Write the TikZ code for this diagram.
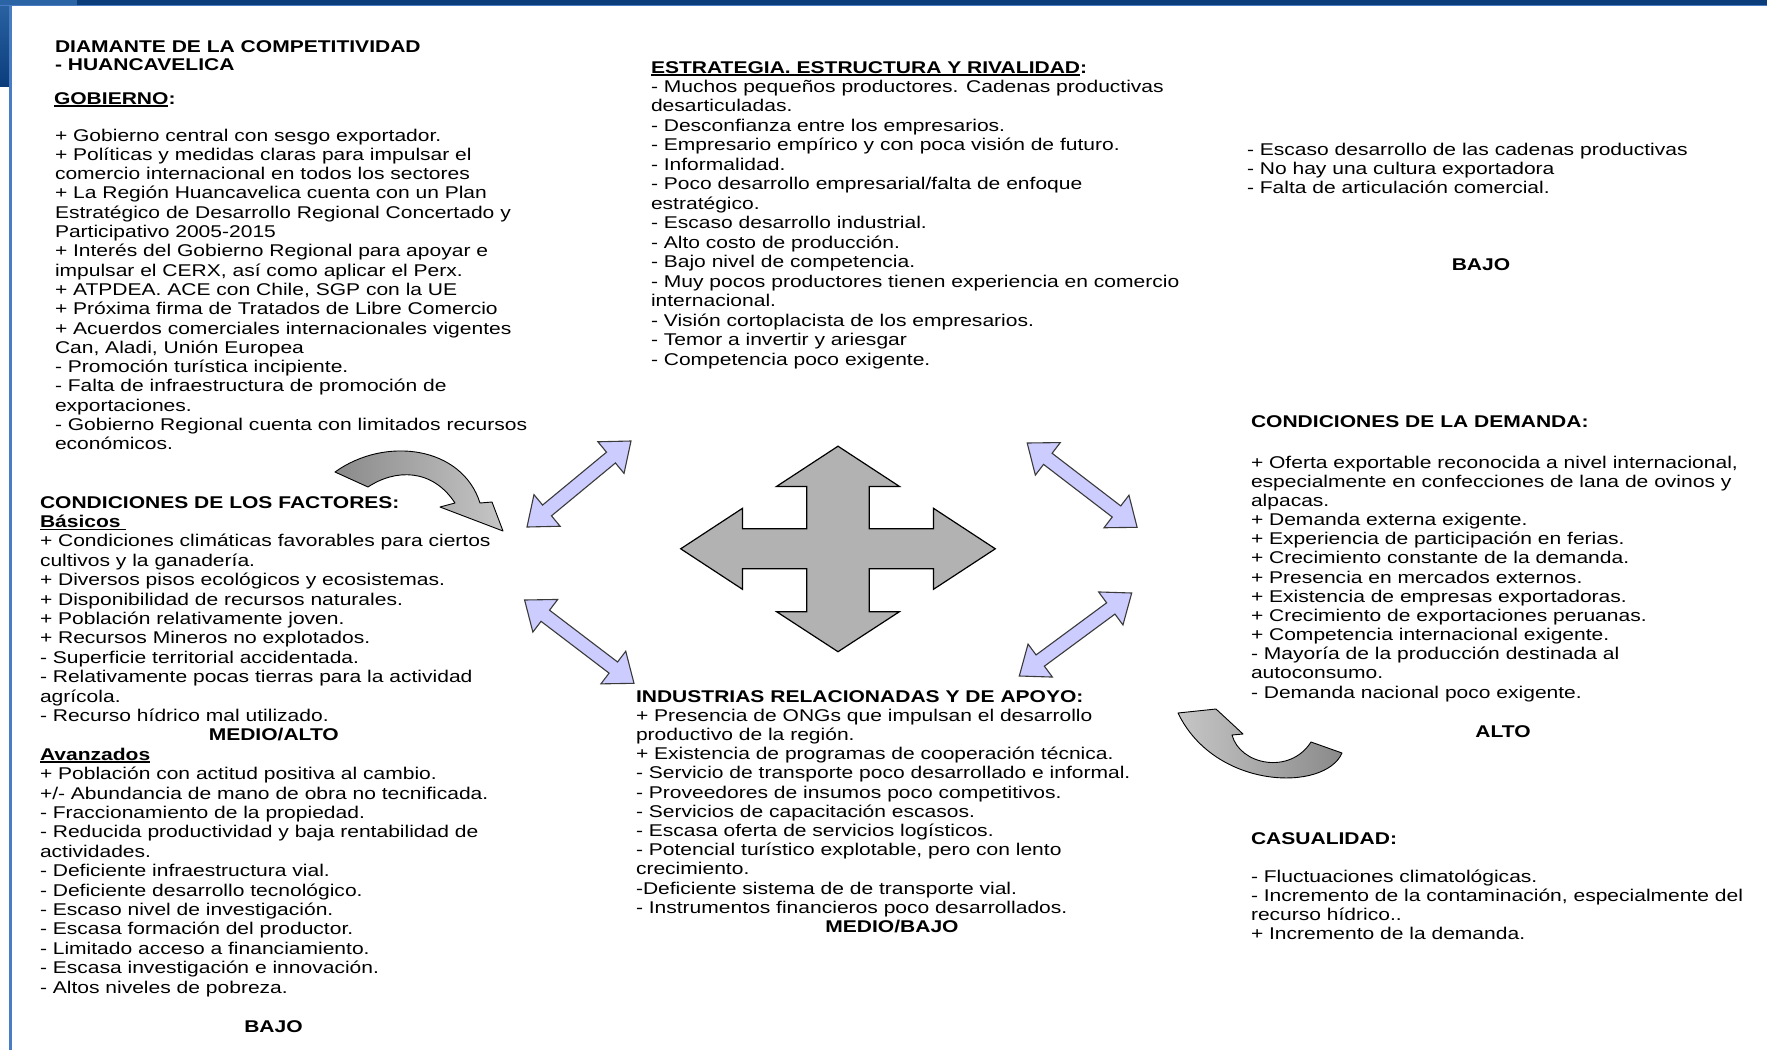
\documentclass[tikz,border=0pt]{standalone}
\usepackage{fontspec}
\setmainfont{Liberation Sans}[FakeStretch=1.237]
\usetikzlibrary{calc}
\definecolor{purpfill}{HTML}{CCCCFF}
\definecolor{arrowline}{HTML}{3A3A3A}
\definecolor{crossgray}{HTML}{B2B2B2}
\definecolor{topnavy}{HTML}{0B3D7B}
\definecolor{midblue}{HTML}{2B64A4}
\definecolor{lineblue}{HTML}{4A7CC4}
\definecolor{cdark}{HTML}{8A8A8A}
\definecolor{clight}{HTML}{C6C6C6}
\newcommand\undl[1]{\setbox0\hbox{#1}\rlap{\rule[-2.6pt]{\wd0}{1.4pt}}\box0}
\newcommand\Ln[1]{\hbox{#1}}
\newcommand\blk[2][19.35pt]{\vtop{\baselineskip=#1\relax\lineskiplimit=-100pt\lineskip=0pt\relax #2}}
\newcommand\dbl[3]{%
  \coordinate (#1-A) at #2;
  \coordinate (#1-B) at #3;
  \coordinate (#1-p) at ($(#1-A)!26pt!(#1-B)$);
  \coordinate (#1-q) at ($(#1-B)!26pt!(#1-A)$);
  \draw[purp] (#1-A) -- ($(#1-p)!20.5pt!90:(#1-B)$) -- ($(#1-p)!7pt!90:(#1-B)$)
    -- ($(#1-q)!7pt!-90:(#1-A)$) -- ($(#1-q)!20.5pt!-90:(#1-A)$) -- (#1-B)
    -- ($(#1-q)!20.5pt!90:(#1-A)$) -- ($(#1-q)!7pt!90:(#1-A)$)
    -- ($(#1-p)!7pt!-90:(#1-B)$) -- ($(#1-p)!20.5pt!-90:(#1-B)$) -- cycle;}
\tikzset{
  txt/.style={anchor=base west, inner sep=0pt, outer sep=0pt, font=\fontsize{17}{19.35}\selectfont},
  lvl/.style={anchor=base, inner sep=0pt, outer sep=0pt, font=\fontsize{17}{19.35}\selectfont\bfseries},
  purp/.style={fill=purpfill, draw=arrowline, line width=1.1pt, line join=miter},
  crossarrow/.style={fill=crossgray, draw=black, line width=1.2pt, line join=miter},
  curv/.style={draw=black, line width=0.9pt, line join=round}
}
\begin{document}
\begin{tikzpicture}[x=1pt,y=1pt]
\useasboundingbox (0,0) rectangle (1767,-1050);
\fill[white] (0,0) rectangle (1767,-1050);
% slide frame
\fill[topnavy] (0,0) rectangle (1767,-4.5);
\fill[top color=midblue, bottom color=topnavy] (0,0) rectangle (9,-86);
\fill[midblue] (0,0) rectangle (77,-4.5);
\fill[lineblue] (0,-4.5) rectangle (1767,-6);
\fill[lineblue] (9,-6) rectangle (11.5,-1050);

% ---------- GOBIERNO ----------
\node[txt] (title) at (55,-52) {\bfseries\blk[18pt]{\Ln{DIAMANTE DE LA COMPETITIVIDAD}\Ln{- HUANCAVELICA}}};
\node[txt] (gobh) at (54,-104) {\bfseries\undl{GOBIERNO}:};
\node[txt] (gob) at (55,-141) {\blk[19.3pt]{%
\Ln{+ Gobierno central con sesgo exportador.}
\Ln{+ Políticas y medidas claras para impulsar el}
\Ln{comercio internacional en todos los sectores}
\Ln{+ La Región Huancavelica cuenta con un Plan}
\Ln{Estratégico de Desarrollo Regional Concertado y}
\Ln{Participativo 2005-2015}
\Ln{+ Interés del Gobierno Regional para apoyar e}
\Ln{impulsar el CERX, así como aplicar el Perx.}
\Ln{+ ATPDEA. ACE con Chile, SGP con la UE}
\Ln{+ Próxima firma de Tratados de Libre Comercio}
\Ln{+ Acuerdos comerciales internacionales vigentes}
\Ln{Can, Aladi, Unión Europea}
\Ln{- Promoción turística incipiente.}
\Ln{- Falta de infraestructura de promoción de}
\Ln{exportaciones.}
\Ln{- Gobierno Regional cuenta con limitados recursos}
\Ln{económicos.}}};

% ---------- FACTORES ----------
\node[txt] (fac) at (40,-508) {\blk[19.4pt]{%
\Ln{\bfseries CONDICIONES DE LOS FACTORES:}
\Ln{\bfseries\undl{Básicos\ }}
\Ln{+ Condiciones climáticas favorables para ciertos}
\Ln{cultivos y la ganadería.}
\Ln{+ Diversos pisos ecológicos y ecosistemas.}
\Ln{+ Disponibilidad de recursos naturales.}
\Ln{+ Población relativamente joven.}
\Ln{+ Recursos Mineros no explotados.}
\Ln{- Superficie territorial accidentada.}
\Ln{- Relativamente pocas tierras para la actividad}
\Ln{agrícola.}
\Ln{- Recurso hídrico mal utilizado.}
\Ln{}
\Ln{\bfseries\undl{Avanzados}}
\Ln{+ Población con actitud positiva al cambio.}
\Ln{+/- Abundancia de mano de obra no tecnificada.}
\Ln{- Fraccionamiento de la propiedad.}
\Ln{- Reducida productividad y baja rentabilidad de}
\Ln{actividades.}
\Ln{- Deficiente infraestructura vial.}
\Ln{- Deficiente desarrollo tecnológico.}
\Ln{- Escaso nivel de investigación.}
\Ln{- Escasa formación del productor.}
\Ln{- Limitado acceso a financiamiento.}
\Ln{- Escasa investigación e innovación.}
\Ln{- Altos niveles de pobreza.}}};
\node[lvl] (facmid) at (273.8,-740) {MEDIO/ALTO};
\node[lvl] (faclow) at (273.5,-1032) {BAJO};

% ---------- ESTRATEGIA ----------
\node[txt] (est) at (651,-73) {\blk[19.47pt]{%
\Ln{\bfseries\undl{ESTRATEGIA. ESTRUCTURA Y RIVALIDAD}:}
\Ln{- Muchos pequeños productores. Cadenas productivas}
\Ln{desarticuladas.}
\Ln{- Desconfianza entre los empresarios.}
\Ln{- Empresario empírico y con poca visión de futuro.}
\Ln{- Informalidad.}
\Ln{- Poco desarrollo empresarial/falta de enfoque}
\Ln{estratégico.}
\Ln{- Escaso desarrollo industrial.}
\Ln{- Alto costo de producción.}
\Ln{- Bajo nivel de competencia.}
\Ln{- Muy pocos productores tienen experiencia en comercio}
\Ln{internacional.}
\Ln{- Visión cortoplacista de los empresarios.}
\Ln{- Temor a invertir y ariesgar}
\Ln{- Competencia poco exigente.}}};

% ---------- RIGHT TOP ----------
\node[txt] (rt) at (1247,-155) {\blk[19pt]{%
\Ln{- Escaso desarrollo de las cadenas productivas}
\Ln{- No hay una cultura exportadora}
\Ln{- Falta de articulación comercial.}}};
\node[lvl] (rtlow) at (1481,-270) {BAJO};

% ---------- DEMANDA ----------
\node[txt] (demh) at (1251,-427) {\bfseries CONDICIONES DE LA DEMANDA:};
\node[txt] (dem) at (1251,-468) {\blk[19.17pt]{%
\Ln{+ Oferta exportable reconocida a nivel internacional,}
\Ln{especialmente en confecciones de lana de ovinos y}
\Ln{alpacas.}
\Ln{+ Demanda externa exigente.}
\Ln{+ Experiencia de participación en ferias.}
\Ln{+ Crecimiento constante de la demanda.}
\Ln{+ Presencia en mercados externos.}
\Ln{+ Existencia de empresas exportadoras.}
\Ln{+ Crecimiento de exportaciones peruanas.}
\Ln{+ Competencia internacional exigente.}
\Ln{- Mayoría de la producción destinada al}
\Ln{autoconsumo.}
\Ln{- Demanda nacional poco exigente.}}};
\node[lvl] (demhigh) at (1503,-737) {ALTO};

% ---------- CASUALIDAD ----------
\node[txt] (cash) at (1251,-844) {\bfseries CASUALIDAD:};
\node[txt] (cas) at (1251,-882) {\blk[19pt]{%
\Ln{- Fluctuaciones climatológicas.}
\Ln{- Incremento de la contaminación, especialmente del}
\Ln{recurso hídrico..}
\Ln{+ Incremento de la demanda.}}};

% ---------- INDUSTRIAS ----------
\node[txt] (ind) at (636,-702) {\blk[19.2pt]{%
\Ln{\bfseries INDUSTRIAS RELACIONADAS Y DE APOYO:}
\Ln{+ Presencia de ONGs que impulsan el desarrollo}
\Ln{productivo de la región.}
\Ln{+ Existencia de programas de cooperación técnica.}
\Ln{- Servicio de transporte poco desarrollado e informal.}
\Ln{- Proveedores de insumos poco competitivos.}
\Ln{- Servicios de capacitación escasos.}
\Ln{- Escasa oferta de servicios logísticos.}
\Ln{- Potencial turístico explotable, pero con lento}
\Ln{crecimiento.}
\Ln{-Deficiente sistema de de transporte vial.}
\Ln{- Instrumentos financieros poco desarrollados.}}};
\node[lvl] (indmid) at (892,-932) {MEDIO/BAJO};

% ---------- central cross arrow ----------
\begin{scope}[shift={(838,-548.8)}]
\draw[crossarrow] (0,102.6) -- (61.4,62.4) -- (31.3,62.4) -- (31.3,20) -- (95.5,20) -- (95.5,40.5)
 -- (157.3,0) -- (95.5,-40.5) -- (95.5,-20) -- (31.3,-20) -- (31.3,-62.9) -- (61.4,-62.9)
 -- (0,-102.9) -- (-61.4,-62.9) -- (-31.3,-62.9) -- (-31.3,-20) -- (-95.5,-20) -- (-95.5,-40.5)
 -- (-157.3,0) -- (-95.5,40.5) -- (-95.5,20) -- (-31.3,20) -- (-31.3,62.4) -- (-61.4,62.4) -- cycle;
\end{scope}

% ---------- double arrows ----------
\dbl{tl}{(527,-527)}{(631,-441)}
\dbl{bl}{(524.6,-600)}{(634,-683.3)}
\dbl{tr}{(1027.2,-443)}{(1137.1,-527.3)}
\dbl{br}{(1131.7,-593)}{(1019.3,-676)}

% ---------- curved arrows ----------
\draw[curv, left color=cdark, right color=clight]
 (335,-472) .. controls (385,-436) and (462,-446) .. (480,-503) -- (492,-502) -- (503,-531)
 -- (440,-507) -- (455,-503) .. controls (432,-468) and (395,-469) .. (368,-487) -- cycle;
\draw[curv, left color=clight, right color=cdark]
 (1178,-713) -- (1216,-709) -- (1243,-734) -- (1232,-735) .. controls (1240,-765) and (1290,-775) .. (1311,-742)
 -- (1342,-753) .. controls (1325,-792) and (1215,-790) .. (1178,-713) -- cycle;
\end{tikzpicture}
\end{document}
